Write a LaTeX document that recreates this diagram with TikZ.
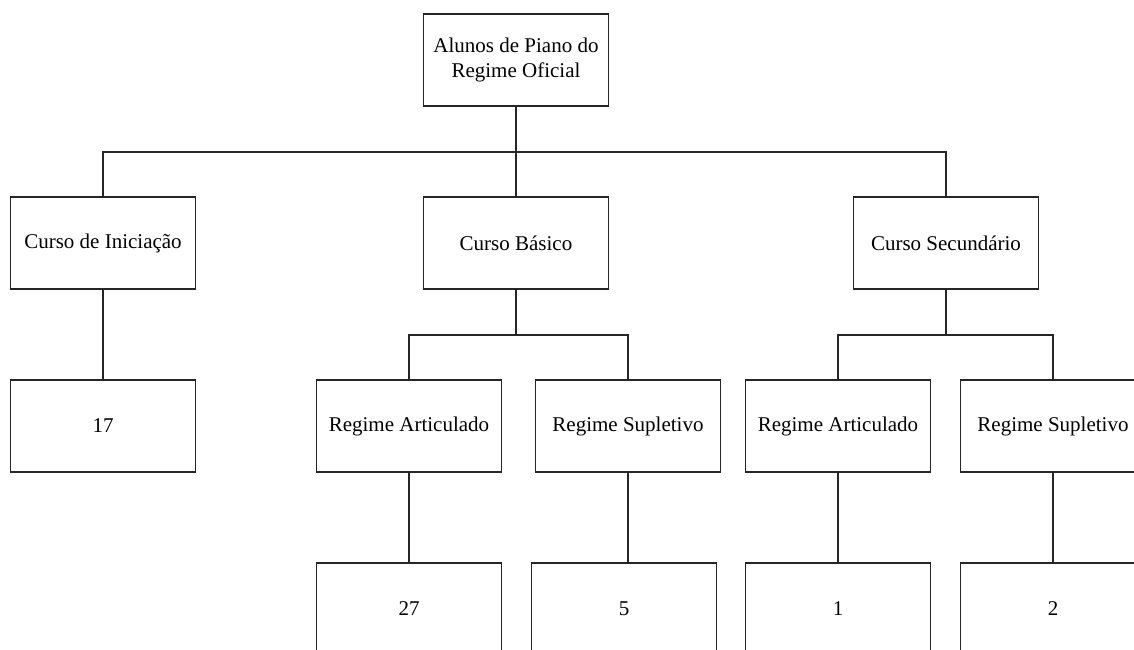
\documentclass[tikz,border=0pt]{standalone}
\usepackage{fontspec}
\setmainfont{Liberation Serif}
\usepackage{tikz}

\begin{document}
\begin{tikzpicture}[x=1pt,y=-1pt,
  every node/.style={font=\fontsize{21}{25}\selectfont},
  box/.style={draw=black!85,line width=1.3pt,minimum width=185pt,
    minimum height=92pt,inner sep=0pt,align=center},
  link/.style={draw=black!85,line width=1.3pt}]
\useasboundingbox (0,0) rectangle (1134,649);
\clip (0,0) rectangle (1134,649);

\node[box] (root) at (516,60) {Alunos de Piano do\\Regime Oficial};

\node[box] (ini) at (103,243) {Curso de Iniciação};
\node[box] (bas) at (516,243) {Curso Básico};
\node[box] (sec) at (946,243) {Curso Secundário};

\node[box] (ini17) at (103,426) {17};
\node[box] (basart) at (409,426) {Regime Articulado};
\node[box] (bassup) at (628,426) {Regime Supletivo};
\node[box] (secart) at (838,426) {Regime Articulado};
\node[box] (secsup) at (1053,426) {Regime Supletivo};

\node[box] (basart27) at (409,609) {27};
\node[box] (bassup5) at (624,609) {5};
\node[box] (secart1) at (838,609) {1};
\node[box] (secsup2) at (1053,609) {2};

\coordinate (jroot) at (516,152);
\coordinate (jbas) at (516,335);
\coordinate (jsec) at (946,335);

\draw[link] (root.south) -- (jroot) -| (ini.north);
\draw[link] (jroot) -| (sec.north);
\draw[link] (jroot) -- (bas.north);
\draw[link] (ini.south) -- (ini17.north);

\draw[link] (bas.south) -- (jbas) -| (basart.north);
\draw[link] (jbas) -| (bassup.north);
\draw[link] (sec.south) -- (jsec) -| (secart.north);
\draw[link] (jsec) -| (secsup.north);

\draw[link] (basart.south) -- (basart27.north);
\draw[link] (bassup.south) -- (bassup.south |- bassup5.north);
\draw[link] (secart.south) -- (secart1.north);
\draw[link] (secsup.south) -- (secsup2.north);
\end{tikzpicture}
\end{document}
